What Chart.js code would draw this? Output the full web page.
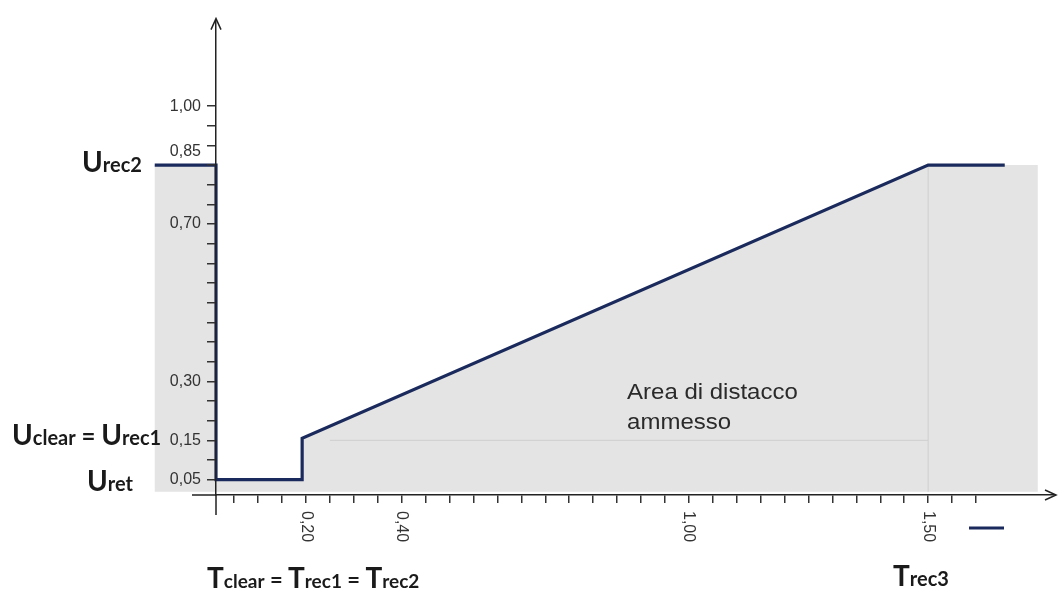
<!DOCTYPE html>
<html>
<head>
<meta charset="utf-8">
<script src="https://cdn.jsdelivr.net/npm/chart.js@4.4.1/dist/chart.umd.min.js"></script>
<style>
html, body { margin: 0; padding: 0; background: #fff; }
#wrap { width: 1060px; height: 594px; }
</style>
</head>
<body>
<div id="wrap"><canvas id="grafico" width="1060" height="594"></canvas></div>
<script>
// curva di riconnessione (tempo in s, tensione in p.u.)
const curvaX = [-0.116, 0.012, 0.012, 0.192, 0.192, 1.50, 1.66];
const curvaY = [0.85, 0.85, 0.05, 0.05, 0.155, 0.85, 0.85];

// area grigia "distacco ammesso"
const areaX = [-0.116, 0.012, 0.012, 0.192, 0.192, 1.50, 1.729];
const areaY = [0.85, 0.85, 0.05, 0.05, 0.155, 0.85, 0.85];
const areaBase = 0.019;

// linee guida chiare
const guidaOrizX = [0.25, 1.50];
const guidaOrizY = [0.15, 0.15];
const guidaVertX = [1.50, 1.50];
const guidaVertY = [0.019, 0.85];

// tacche assi
const tickX = [0.05, 0.10, 0.15, 0.20, 0.25, 0.30, 0.35, 0.40, 0.45, 0.50, 0.55, 0.60, 0.65, 0.70, 0.75, 0.80,
               0.85, 0.90, 0.95, 1.00, 1.05, 1.10, 1.15, 1.20, 1.25, 1.30, 1.35, 1.40, 1.45, 1.50, 1.55, 1.60];
const tickY = [0.05, 0.10, 0.15, 0.20, 0.25, 0.30, 0.35, 0.40, 0.45, 0.50, 0.55, 0.60, 0.65, 0.70, 0.75, 0.80,
               0.85, 0.90, 0.95, 1.00];
const etichetteXVal = [0.20, 0.40, 1.00, 1.50];
const etichetteXTxt = ['0,20', '0,40', '1,00', '1,50'];
const etichetteYVal = [0.05, 0.15, 0.30, 0.70, 0.85, 1.00];
const etichetteYTxt = ['0,05', '0,15', '0,30', '0,70', '0,85', '1,00'];
const etichetteYAlte = ['0,85']; // spostate sopra la linea

const blu = '#1b2a5c';
const grigio = '#e4e4e4';

function punti(xs, ys) {
    return xs.map((x, i) => ({ x: x, y: ys[i] }));
}

function trova(arr, v) {
    return arr.findIndex(t => Math.abs(t - v) < 1e-6);
}

// scrive U/T grandi con pedici
function scriviPedici(ctx, parti, x, y) {
    let cx = x;
    parti.forEach(p => {
        ctx.font = 'bold ' + p[1] + 'px Lato';
        ctx.fillText(p[0], cx, y);
        cx += ctx.measureText(p[0]).width;
    });
}

// area grigia sotto la curva (anche a sinistra dell'asse y)
const areaGrigia = {
    id: 'areaGrigia',
    beforeDatasetsDraw(chart) {
        const ctx = chart.ctx;
        const sx = chart.scales.x, sy = chart.scales.y;
        const yb = sy.getPixelForValue(areaBase);
        ctx.save();
        ctx.fillStyle = grigio;
        ctx.beginPath();
        ctx.moveTo(sx.getPixelForValue(areaX[0]), yb);
        areaX.forEach((x, i) => ctx.lineTo(sx.getPixelForValue(x), sy.getPixelForValue(areaY[i])));
        ctx.lineTo(sx.getPixelForValue(areaX[areaX.length - 1]), yb);
        ctx.closePath();
        ctx.fill();
        ctx.restore();
    }
};

const decorazioni = {
    id: 'decorazioni',
    afterDraw(chart) {
        const ctx = chart.ctx;
        const sx = chart.scales.x, sy = chart.scales.y;
        const x0 = sx.left, y0 = sy.bottom;

        ctx.save();
        ctx.strokeStyle = '#222';
        ctx.lineWidth = 1.5;
        // prolungamenti assi + frecce
        ctx.beginPath();
        ctx.moveTo(x0, y0); ctx.lineTo(x0, y0 + 20);
        ctx.moveTo(x0 - 24, y0); ctx.lineTo(x0, y0);
        ctx.moveTo(x0 - 5, sy.top + 10); ctx.lineTo(x0, sy.top - 1); ctx.lineTo(x0 + 5, sy.top + 10);
        ctx.moveTo(sx.right - 10, y0 - 5); ctx.lineTo(sx.right + 1, y0); ctx.lineTo(sx.right - 10, y0 + 5);
        ctx.stroke();

        // etichette asse x ruotate
        ctx.fillStyle = '#333';
        ctx.font = '16px "Liberation Sans"';
        ctx.textAlign = 'left';
        ctx.textBaseline = 'middle';
        etichetteXVal.forEach((v, i) => {
            ctx.save();
            ctx.translate(sx.getPixelForValue(v), y0 + 16);
            ctx.rotate(Math.PI / 2);
            ctx.fillText(etichetteXTxt[i], 0, 0);
            ctx.restore();
        });

        // testo area
        ctx.fillStyle = '#2a2a2a';
        ctx.font = '22px "Liberation Sans"';
        ctx.textBaseline = 'alphabetic';
        const ax = sx.getPixelForValue(0.871);
        ctx.save();
        ctx.translate(ax, 0);
        ctx.scale(1.09, 1);
        ctx.fillText('Area di distacco', 0, sy.getPixelForValue(0.255));
        ctx.fillText('ammesso', 0, sy.getPixelForValue(0.18));
        ctx.restore();

        // simboli grandi
        ctx.fillStyle = '#1a1a1a';
        scriviPedici(ctx, [['U', 28], ['rec2', 20]], 82, sy.getPixelForValue(0.85) + 7);
        scriviPedici(ctx, [['U', 28], ['clear', 20], [' = ', 24], ['U', 28], ['rec1', 20]], 12, sy.getPixelForValue(0.15) + 5);
        scriviPedici(ctx, [['U', 28], ['ret', 20]], 87, sy.getPixelForValue(0.05) + 11);
        scriviPedici(ctx, [['T', 28], ['clear', 19], [' = ', 22], ['T', 28], ['rec1', 19], [' = ', 22], ['T', 28], ['rec2', 19]], 207, 588);
        scriviPedici(ctx, [['T', 28], ['rec3', 20]], 893, 586);

        // segno legenda
        ctx.strokeStyle = blu;
        ctx.lineWidth = 3;
        ctx.beginPath();
        ctx.moveTo(969, 528); ctx.lineTo(1004, 528);
        ctx.stroke();
        ctx.restore();
    }
};

new Chart(document.getElementById('grafico').getContext('2d'), {
    type: 'scatter',
    data: {
        datasets: [
            {
                data: punti(curvaX, curvaY),
                showLine: true,
                borderColor: blu,
                borderWidth: 3.2,
                pointRadius: 0,
                fill: false,
                clip: false
            },
            {
                data: punti(guidaOrizX, guidaOrizY),
                showLine: true,
                borderColor: '#d2d2d2',
                borderWidth: 1.2,
                pointRadius: 0,
                fill: false
            },
            {
                data: punti(guidaVertX, guidaVertY),
                showLine: true,
                borderColor: '#d2d2d2',
                borderWidth: 1.2,
                pointRadius: 0,
                fill: false
            }
        ]
    },
    options: {
        responsive: false,
        animation: false,
        layout: { padding: { top: 15, right: 5, left: 0, bottom: 0 } },
        plugins: { legend: { display: false }, tooltip: { enabled: false } },
        scales: {
            x: {
                type: 'linear',
                min: 0.012,
                max: 1.765,
                afterBuildTicks: s => { s.ticks = tickX.map(v => ({ value: v })); },
                afterFit: s => { s.height = 99; },
                ticks: { callback: () => '', autoSkip: false, maxRotation: 0, padding: 0, z: 1 },
                grid: { drawOnChartArea: false, drawTicks: true, tickLength: 8, color: '#333', lineWidth: 1.5, z: 1 },
                border: { display: true, color: '#222', width: 1.5, z: 1 }
            },
            y: {
                type: 'linear',
                min: 0.011,
                max: 1.22,
                afterBuildTicks: s => { s.ticks = tickY.map(v => ({ value: v })); },
                afterFit: s => { s.width = 216; },
                ticks: {
                    autoSkip: false,
                    padding: 6,
                    z: 1,
                    color: '#333',
                    font: { family: 'Liberation Sans', size: 16, lineHeight: 1.7 },
                    callback: v => {
                        const i = trova(etichetteYVal, v);
                        if (i < 0) return '';
                        const t = etichetteYTxt[i];
                        return etichetteYAlte.includes(t) ? [t, ''] : t;
                    }
                },
                grid: { drawOnChartArea: false, drawTicks: true, tickLength: 9, color: '#333', lineWidth: 1.5, z: 1 },
                border: { display: true, color: '#222', width: 1.5, z: 1 }
            }
        }
    },
    plugins: [areaGrigia, decorazioni]
});
</script>
</body>
</html>
